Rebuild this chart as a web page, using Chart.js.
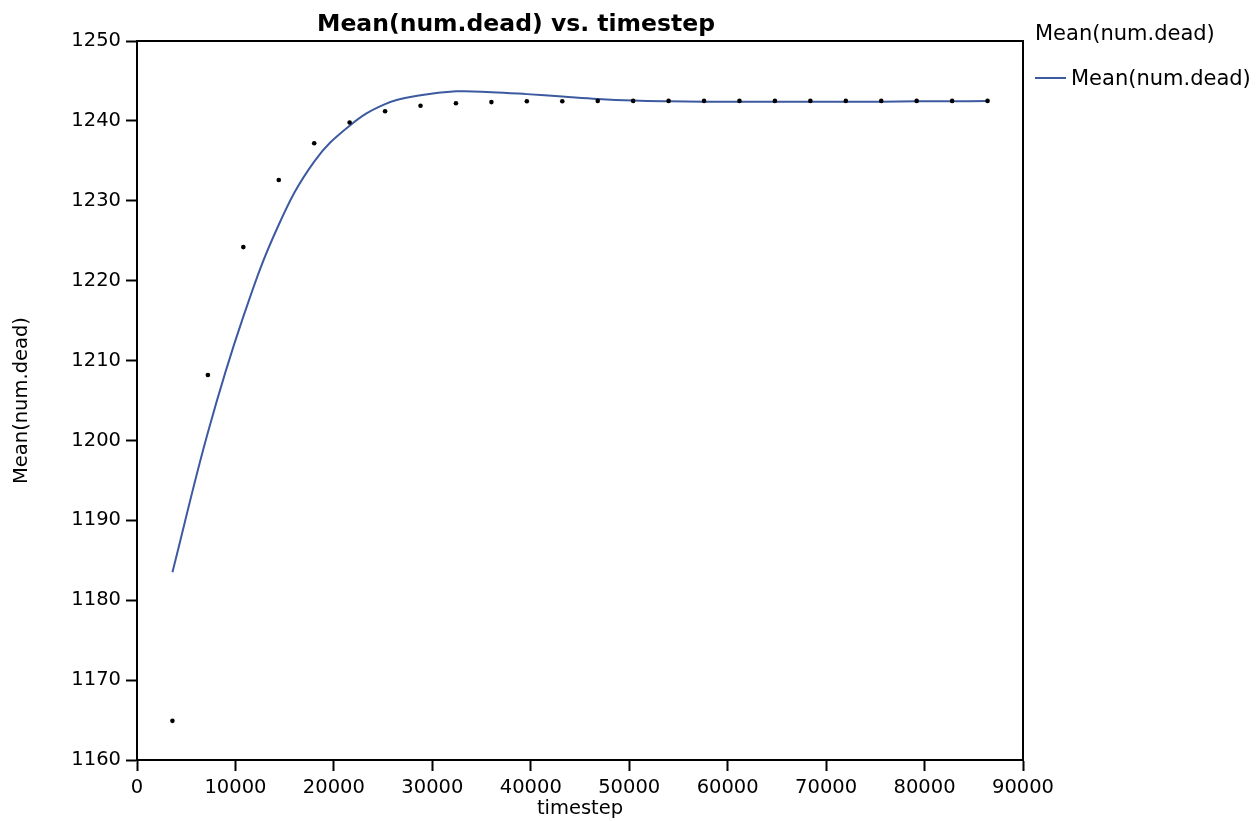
<!DOCTYPE html>
<html>
<head>
<meta charset="utf-8">
<script src="https://cdn.jsdelivr.net/npm/chart.js@4"></script>
<style>
    html, body { margin: 0; padding: 0; background: #fff; }
    #wrap { position: relative; width: 1259px; height: 821px; }
    #legend { position: absolute; left: 1035px; top: 21px; font-family: "DejaVu Sans", sans-serif; font-size: 21px; color: #000; }
    #legend .item { display: flex; align-items: center; margin-top: 21px; }
    #legend .swatch { width: 31px; height: 0; border-top: 2px solid #3d5aa0; margin-right: 5px; }
</style>
</head>
<body>
<div id="wrap">
    <canvas id="chart1" width="1259" height="821"></canvas>
    <div id="legend">
        <div>Mean(num.dead)</div>
        <div class="item"><span class="swatch"></span><span>Mean(num.dead)</span></div>
    </div>
</div>
<script>
// data
const timesteps = [3600, 7200, 10800, 14400, 18000, 21600, 25200, 28800, 32400, 36000, 39600, 43200,
    46800, 50400, 54000, 57600, 61200, 64800, 68400, 72000, 75600, 79200, 82800, 86400];
const meanDead = [1164.9, 1208.2, 1224.2, 1232.6, 1237.2, 1239.8, 1241.2, 1241.9, 1242.2, 1242.35, 1242.45, 1242.45,
    1242.5, 1242.5, 1242.5, 1242.5, 1242.5, 1242.5, 1242.5, 1242.5, 1242.5, 1242.5, 1242.5, 1242.5];
const smoothFit = [1183.5, 1201.0, 1215.5, 1227.0, 1234.9, 1239.4, 1242.1, 1243.2, 1243.7, 1243.6, 1243.35, 1243.05,
    1242.75, 1242.55, 1242.45, 1242.4, 1242.4, 1242.4, 1242.4, 1242.4, 1242.4, 1242.45, 1242.45, 1242.5];
const xTicks = [0, 10000, 20000, 30000, 40000, 50000, 60000, 70000, 80000, 90000];
const yTicks = [1160, 1170, 1180, 1190, 1200, 1210, 1220, 1230, 1240, 1250];
const chartTitle = 'Mean(num.dead) vs. timestep';

const font = 'DejaVu Sans';

// frame round the plot area and the title on top
const framePlugin = {
    id: 'frame',
    afterDraw(chart) {
        const { ctx, chartArea } = chart;
        ctx.save();
        ctx.strokeStyle = '#000';
        ctx.lineWidth = 2;
        ctx.strokeRect(chartArea.left, chartArea.top, chartArea.right - chartArea.left, chartArea.bottom - chartArea.top);
        ctx.fillStyle = '#000';
        ctx.font = 'bold 23.5px "' + font + '"';
        ctx.textAlign = 'center';
        ctx.textBaseline = 'middle';
        ctx.fillText(chartTitle, 516, 25);
        ctx.restore();
    }
};

const ctx = document.getElementById('chart1').getContext('2d');
new Chart(ctx, {
    type: 'scatter',
    data: {
        datasets: [{
            label: 'points',
            data: timesteps.map((t, i) => ({ x: t, y: meanDead[i] })),
            showLine: false,
            pointRadius: 2.3,
            pointBackgroundColor: '#000',
            pointBorderWidth: 0
        }, {
            label: 'Mean(num.dead)',
            data: timesteps.map((t, i) => ({ x: t, y: smoothFit[i] })),
            showLine: true,
            borderColor: '#3d5aa0',
            borderWidth: 2,
            pointRadius: 0,
            tension: 0.4
        }]
    },
    options: {
        responsive: false,
        animation: false,
        layout: { padding: { left: 0, right: 236, top: 41, bottom: 0 } },
        plugins: {
            legend: { display: false },
            tooltip: { enabled: false }
        },
        scales: {
            x: {
                type: 'linear',
                min: 0,
                max: 90000,
                afterFit(scale) { scale.height = 61; },
                afterBuildTicks(scale) { scale.ticks = xTicks.map(v => ({ value: v })); },
                grid: { drawOnChartArea: false, tickLength: 11, tickColor: '#000', tickWidth: 2 },
                border: { color: '#000', width: 2 },
                ticks: { color: '#000', padding: 5, maxRotation: 0, font: { family: font, size: 19.5 }, callback: v => String(v) },
                title: { display: true, text: 'timestep', color: '#000', padding: 0, font: { family: font, size: 19.5 } }
            },
            y: {
                type: 'linear',
                min: 1160,
                max: 1250,
                afterFit(scale) { scale.width = 137; },
                afterBuildTicks(scale) { scale.ticks = yTicks.map(v => ({ value: v })); },
                grid: { drawOnChartArea: false, tickLength: 11, tickColor: '#000', tickWidth: 2 },
                border: { color: '#000', width: 2 },
                ticks: { color: '#000', padding: 5, font: { family: font, size: 19.5 }, callback: v => String(v) },
                title: { display: true, text: 'Mean(num.dead)', color: '#000', padding: { top: 10, bottom: 0 }, font: { family: font, size: 19.5 } }
            }
        }
    },
    plugins: [framePlugin]
});
</script>
</body>
</html>
